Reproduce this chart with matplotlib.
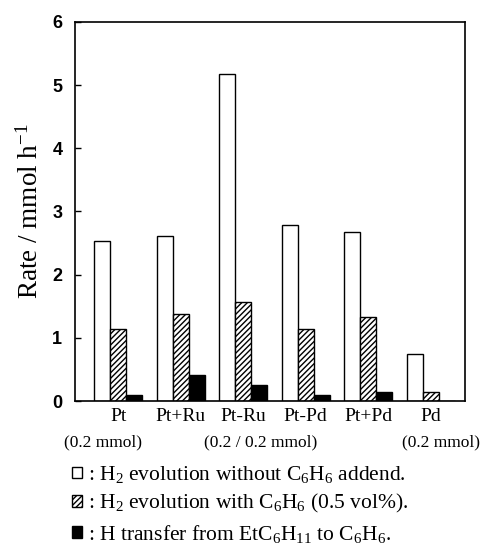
import numpy as np
import matplotlib.pyplot as plt
from matplotlib.patches import Patch
from matplotlib.transforms import blended_transform_factory

# --- data ---
catalysts = ['Pt', 'Pt+Ru', 'Pt-Ru', 'Pt-Pd', 'Pt+Pd', 'Pd']
h2_without = [2.53, 2.61, 5.18, 2.78, 2.67, 0.74]
h2_with = [1.14, 1.38, 1.57, 1.14, 1.33, 0.15]
h_transfer = [0.10, 0.41, 0.25, 0.10, 0.15, 0.0]
amount_labels = ['(0.2 mmol)', '(0.2 / 0.2 mmol)', '(0.2 mmol)']
amount_pos = [-0.25, 2.28, 5.17]

serif = 'Liberation Serif'
plt.rcParams['mathtext.fontset'] = 'custom'
plt.rcParams['mathtext.rm'] = serif
plt.rcParams['mathtext.it'] = serif + ':italic'
plt.rcParams['hatch.linewidth'] = 1.0

fig = plt.figure(figsize=(4.89, 5.43), dpi=100)
ax = fig.add_axes([0.153, 0.2615, 0.798, 0.698])

x = np.arange(len(catalysts))
w = 0.255
ax.bar(x - w, h2_without, w, color='white', edgecolor='black', linewidth=1.0)
ax.bar(x, h2_with, w, color='white', edgecolor='black', linewidth=1.0, hatch='//////')
ax.bar(x + w, h_transfer, w, color='black', edgecolor='black', linewidth=1.0)

ax.set_xlim(-0.695, 5.55)
ax.set_ylim(0, 6)
ax.set_yticks(range(7))
ax.set_yticklabels([str(v) for v in range(7)], fontfamily='Liberation Sans',
                   fontweight='bold', fontsize=13)
ax.tick_params(axis='y', direction='in', length=4, width=1, pad=9)
ax.set_xticks(x)
ax.set_xticklabels(catalysts, fontfamily=serif, fontsize=14)
ax.tick_params(axis='x', length=0, pad=5)
for s in ax.spines.values():
    s.set_linewidth(1.2)

ax.set_ylabel('Rate / mmol h$^{-1}$', fontfamily=serif, fontsize=19.5, labelpad=6)

trans = blended_transform_factory(ax.transData, ax.transAxes)
for lbl, pos in zip(amount_labels, amount_pos):
    ax.text(pos, -0.108, lbl, transform=trans, ha='center', va='center',
            fontfamily=serif, fontsize=12.5)

handles = [Patch(facecolor='white', edgecolor='black'),
           Patch(facecolor='white', edgecolor='black', hatch='//////'),
           Patch(facecolor='black', edgecolor='black')]
labels = [': H$_2$ evolution without C$_6$H$_6$ addend.',
          ': H$_2$ evolution with C$_6$H$_6$ (0.5 vol%).',
          ': H transfer from EtC$_6$H$_{11}$ to C$_6$H$_6$.']
fig.legend(handles, labels, loc='upper left', bbox_to_anchor=(0.147, 0.145),
           frameon=False, prop={'family': serif, 'size': 15.5},
           handlelength=0.45, handleheight=0.45, handletextpad=0.3,
           labelspacing=0.33, borderpad=0, borderaxespad=0)

fig.savefig('out.png', dpi=100)
